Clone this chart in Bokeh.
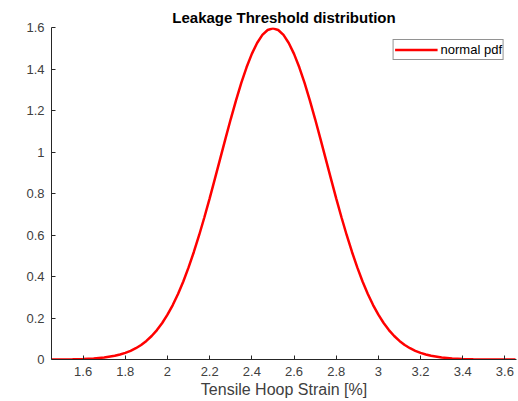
from bokeh.plotting import figure
from bokeh.embed import file_html
from bokeh.resources import INLINE
from bokeh.models import FixedTicker, CustomJSTickFormatter, Range1d, Legend, LegendItem

# Data (normal pdf of tensile hoop strain)
strain = [1.45, 1.50, 1.55, 1.60, 1.65, 1.70, 1.75, 1.775, 1.80, 1.825, 1.85, 1.875,
          1.90, 1.925, 1.95, 1.975, 2.00, 2.025, 2.05, 2.075, 2.10, 2.125, 2.15, 2.175,
          2.20, 2.225, 2.25, 2.275, 2.30, 2.325, 2.35, 2.375, 2.40, 2.425, 2.45, 2.475,
          2.50, 2.525, 2.55, 2.575, 2.60, 2.625, 2.65, 2.675, 2.70, 2.725, 2.75, 2.775,
          2.80, 2.825, 2.85, 2.875, 2.90, 2.925, 2.95, 2.975, 3.00, 3.025, 3.05, 3.075,
          3.10, 3.125, 3.15, 3.175, 3.20, 3.225, 3.25, 3.30, 3.35, 3.40, 3.45, 3.50,
          3.55, 3.60, 3.65]
density = [0.0002, 0.0005, 0.0012, 0.0024, 0.0049, 0.0095, 0.0177, 0.0238, 0.0317, 0.0417, 0.0543, 0.0701,
           0.0896, 0.1133, 0.1419, 0.1759, 0.2160, 0.2625, 0.3158, 0.3762, 0.4437, 0.5181, 0.5989, 0.6855,
           0.7768, 0.8714, 0.9679, 1.0644, 1.1588, 1.2490, 1.3329, 1.4083, 1.4731, 1.5256, 1.5642, 1.5878,
           1.5958, 1.5878, 1.5642, 1.5256, 1.4731, 1.4083, 1.3329, 1.2490, 1.1588, 1.0644, 0.9679, 0.8714,
           0.7768, 0.6855, 0.5989, 0.5181, 0.4437, 0.3762, 0.3158, 0.2625, 0.2160, 0.1759, 0.1419, 0.1133,
           0.0896, 0.0701, 0.0543, 0.0417, 0.0317, 0.0238, 0.0177, 0.0095, 0.0049, 0.0024, 0.0012, 0.0005,
           0.0002, 0.0001, 0.0000]

x_ticks = [1.6, 1.8, 2.0, 2.2, 2.4, 2.6, 2.8, 3.0, 3.2, 3.4, 3.6]
y_ticks = [0, 0.2, 0.4, 0.6, 0.8, 1.0, 1.2, 1.4, 1.6]

title_text = "Leakage Threshold distribution"
x_label = "Tensile Hoop Strain [%]"
legend_label = "normal pdf"

FONT = "Liberation Sans"
AX = "#262626"
LBL = "#404040"

p = figure(width=518, height=401, output_backend="svg", toolbar_location=None,
           x_range=Range1d(1.45, 3.655), y_range=Range1d(0, 1.6),
           min_border_left=51, min_border_right=2, min_border_top=27, min_border_bottom=42)
p.title.text = title_text
p.title.align = "center"
p.title.text_font = FONT
p.title.text_font_size = "15px"
p.title.text_font_style = "bold"
p.title.text_color = "#000000"
p.title.standoff = 3

p.outline_line_color = None
p.xgrid.visible = False
p.ygrid.visible = False
p.background_fill_color = "white"
p.border_fill_color = "white"

fmt = CustomJSTickFormatter(code="return tick.toFixed(1).replace(/\\.0$/, '');")
for ax, ticks in ((p.xaxis[0], x_ticks), (p.yaxis[0], y_ticks)):
    ax.ticker = FixedTicker(ticks=ticks)
    ax.formatter = fmt
    ax.major_tick_in = 4
    ax.major_tick_out = 0
    ax.minor_tick_line_color = None
    ax.axis_line_color = AX
    ax.major_tick_line_color = AX
    ax.major_label_text_font = FONT
    ax.major_label_text_font_size = "13px"
    ax.major_label_text_color = LBL

p.xaxis.major_label_standoff = 7
p.yaxis.major_label_standoff = 7

p.xaxis.axis_label = x_label
p.xaxis.axis_label_text_font = FONT
p.xaxis.axis_label_text_font_size = "16px"
p.xaxis.axis_label_text_font_style = "normal"
p.xaxis.axis_label_text_color = LBL
p.xaxis.axis_label_standoff = 2

r = p.line(strain, density, line_color="#ff0000", line_width=2.5)

legend = Legend(items=[LegendItem(label=legend_label, renderers=[r])],
                location="top_right")
legend.margin = 12
legend.padding = 1
legend.spacing = 0
legend.glyph_width = 43
legend.glyph_height = 17
legend.label_standoff = 3
legend.label_text_font = FONT
legend.label_text_font_size = "13px"
legend.label_text_color = "#000000"
legend.label_height = 17
legend.border_line_color = AX
legend.border_line_width = 1
legend.background_fill_color = "white"
legend.background_fill_alpha = 1
p.add_layout(legend)

open("out.html", "w").write(file_html(p, INLINE))
